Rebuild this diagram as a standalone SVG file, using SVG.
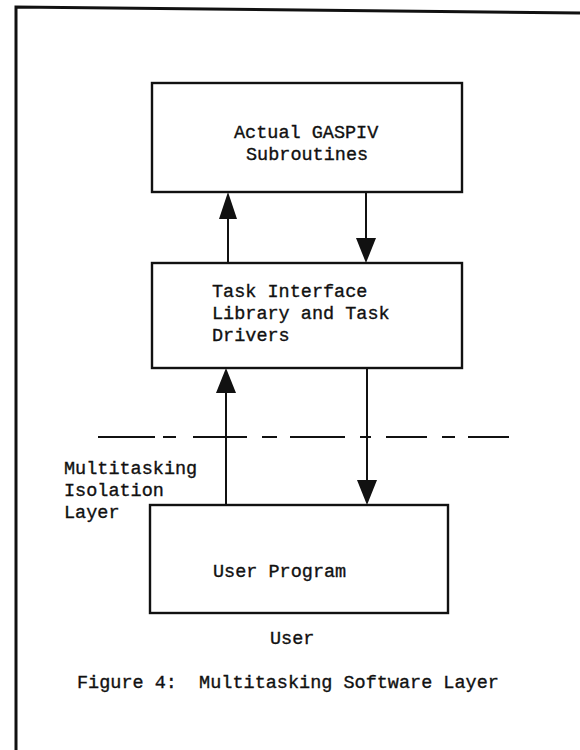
<svg xmlns="http://www.w3.org/2000/svg" width="580" height="750" viewBox="0 0 580 750">
<style>
.box{fill:none;stroke:#111;stroke-width:2.4}
.ln{fill:none;stroke:#111;stroke-width:2}
.frame{fill:none;stroke:#111;stroke-width:3}
.dash{fill:none;stroke:#111;stroke-width:2}
.head{fill:#111}
text{font-family:"Liberation Mono","Courier New",monospace;font-size:18.5px;fill:#111;stroke:#111;stroke-width:0.35;white-space:pre}
</style>
<rect width="580" height="750" fill="#fff"/>
<g id="frame">
<path class="frame" d="M16,750 L16,7 L580,13"/>
</g>
<g id="node-gaspiv">
<rect class="box" x="152" y="83" width="310" height="109"/>
<text x="234" y="138">Actual GASPIV</text>
<text x="246" y="160">Subroutines</text>
</g>
<g id="node-task-interface">
<rect class="box" x="152" y="263" width="310" height="105"/>
<text x="212" y="297">Task Interface</text>
<text x="212" y="319">Library and Task</text>
<text x="212" y="341">Drivers</text>
</g>
<g id="node-user-program">
<rect class="box" x="150" y="505" width="298" height="108"/>
<text x="213" y="577">User Program</text>
</g>
<g id="isolation-layer">
<path class="dash" d="M98,437H155 M163,437H176 M193,437H247 M262,437H277 M290,437H345 M360,437H371 M386,437H427 M442,437H455 M468,437H509"/>
<text x="64" y="474">Multitasking</text>
<text x="64" y="496">Isolation</text>
<text x="64" y="518">Layer</text>
</g>
<g id="connectors">
<line class="ln" x1="228" y1="263" x2="228" y2="210"/>
<path class="head" d="M228,192 L237,219 L219,219 Z"/>
<line class="ln" x1="366" y1="192" x2="366" y2="245"/>
<path class="head" d="M366,263 L356,238 L376,238 Z"/>
<line class="ln" x1="226" y1="505" x2="226" y2="385"/>
<path class="head" d="M226,368 L236,393 L216,393 Z"/>
<line class="ln" x1="367" y1="368" x2="367" y2="490"/>
<path class="head" d="M367,505 L357,480 L377,480 Z"/>
</g>
<g id="labels">
<text x="270" y="644">User</text>
<text x="77" y="688">Figure 4:  Multitasking Software Layer</text>
</g>
</svg>
